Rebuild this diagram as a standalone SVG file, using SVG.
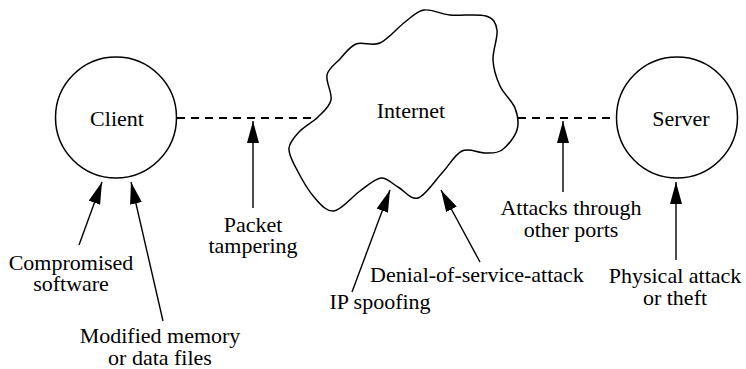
<svg xmlns="http://www.w3.org/2000/svg" width="746" height="369" viewBox="0 0 746 369">
<style>
  .node { fill: #fff; stroke: #000; stroke-width: 1.5; }
  text { font-family: 'Liberation Serif', 'Times New Roman', serif; font-size: 22px; fill: #000; text-anchor: middle; }
  .dash { stroke: #000; stroke-width: 2.2; stroke-dasharray: 8 6; fill: none; }
  .arr { stroke: #000; stroke-width: 1.4; fill: none; marker-end: url(#ah); }
</style>
<defs>
  <marker id="ah" viewBox="0 0 22 12" refX="22" refY="6" markerWidth="22" markerHeight="12" markerUnits="userSpaceOnUse" orient="auto">
    <path d="M0,0 L22,6 L0,12 z" fill="#000"/>
  </marker>
</defs>
<rect width="746" height="369" fill="#fff"/>
<g id="connectors">
  <line class="dash" x1="177" y1="118" x2="318" y2="118"/>
  <line class="dash" x1="518" y1="118" x2="617" y2="118"/>
  <line class="arr" x1="79" y1="245" x2="102" y2="182"/>
  <line class="arr" x1="163" y1="321" x2="131" y2="182"/>
  <line class="arr" x1="253" y1="208" x2="253" y2="121"/>
  <line class="arr" x1="352" y1="292" x2="390" y2="190"/>
  <line class="arr" x1="480" y1="262" x2="441" y2="190"/>
  <line class="arr" x1="563" y1="192" x2="563" y2="121"/>
  <line class="arr" x1="676" y1="260" x2="676" y2="182"/>
</g>
<g id="client">
  <circle class="node" cx="116" cy="117.5" r="60.5"/>
  <text x="117" y="126">Client</text>
</g>
<g id="internet">
  <path class="node" d="M318,117 C323.17,111.83 329.5,107 331,100 C332.5,93 325.5,81.83 327,75 C328.5,68.17 335.17,64.17 340,59 C344.83,53.83 349.33,46.67 356,44 C362.67,41.33 371.83,46.67 380,43 C388.17,39.33 397.67,27.5 405,22 C412.33,16.5 416.5,11.17 424,10 C431.5,8.83 439.67,14 450,15 C460.33,16 478.17,13.5 486,16 C493.83,18.5 495.83,22.67 497,30 C498.17,37.33 492.5,50.67 493,60 C493.5,69.33 496.33,78 500,86 C503.67,94 512.17,100.67 515,108 C517.83,115.33 519.17,123 517,130 C514.83,137 507.33,146.17 502,150 C496.67,153.83 491.67,152.83 485,153 C478.33,153.17 469.17,147.67 462,151 C454.83,154.33 449.33,165.17 442,173 C434.67,180.83 425.33,195.67 418,198 C410.67,200.33 404.17,190.33 398,187 C391.83,183.67 387.33,177.33 381,178 C374.67,178.67 367.83,185.5 360,191 C352.17,196.5 341.67,210 334,211 C326.33,212 320.33,204.17 314,197 C307.67,189.83 300.17,176.17 296,168 C291.83,159.83 288.33,154.17 289,148 C289.67,141.83 295.17,136.17 300,131 C304.83,125.83 312.83,122.17 318,117 Z"/>
  <text x="411" y="118">Internet</text>
</g>
<g id="server">
  <circle class="node" cx="677" cy="117.5" r="60.5"/>
  <text x="681" y="126">Server</text>
</g>
<g id="labels">
  <text x="71" y="270">Compromised<tspan x="71" dy="21">software</tspan></text>
  <text x="160" y="343">Modified memory<tspan x="160" dy="22">or data files</tspan></text>
  <text x="253" y="232">Packet<tspan x="253" dy="21">tampering</tspan></text>
  <text x="380" y="309">IP spoofing</text>
  <text x="477" y="282">Denial-of-service-attack</text>
  <text x="571" y="215">Attacks through<tspan x="571" dy="22">other ports</tspan></text>
  <text x="675" y="283">Physical attack<tspan x="675" dy="22">or theft</tspan></text>
</g>
</svg>
